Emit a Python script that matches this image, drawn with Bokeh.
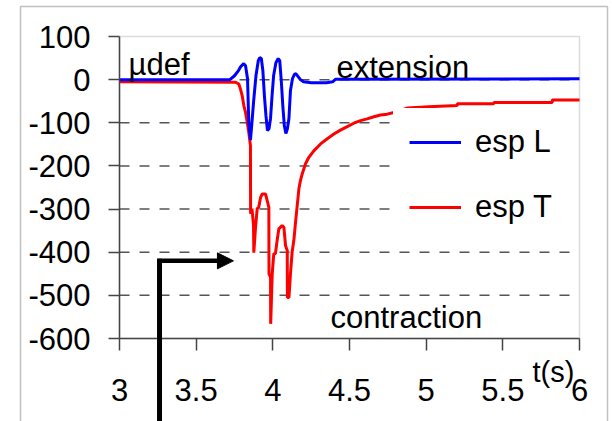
from bokeh.plotting import figure
from bokeh.models import (Range1d, FixedTicker, Legend, LegendItem, Label,
                          Arrow, NormalHead, BoxAnnotation, LinearAxis)
from bokeh.embed import file_html
from bokeh.resources import INLINE

# Longitudinal strain (esp L), microstrain vs time in seconds
t_L = [3.0, 3.72, 3.75, 3.776, 3.79, 3.81, 3.822, 3.835, 3.843, 3.854,
       3.862, 3.875, 3.89, 3.905, 3.915, 3.925, 3.935, 3.945, 3.955, 3.965,
       3.975, 3.985, 3.995, 4.005, 4.02, 4.035, 4.045, 4.055, 4.065, 4.075,
       4.085, 4.095, 4.105, 4.115, 4.128, 4.14, 4.15, 4.165, 4.18, 4.2,
       4.25, 4.35, 4.39, 4.41, 6.0]
esp_L = [0, 0, 9, 21, 30, 37, 32, 2, -99, -140,
         -107, -49, 9, 44, 51, 49, 21, -37, -83, -118,
         -114, -90, -37, 9, 39, 49, 44, -2, -60, -107,
         -125, -114, -90, -25, 2, 12, 14, 7, 0, -5,
         -7, -7, -5, 1, 2]

# Transverse strain (esp T)
t_T = [3.0, 3.757, 3.778, 3.789, 3.8, 3.811, 3.822, 3.833, 3.843, 3.854,
       3.855, 3.864, 3.874, 3.876, 3.887, 3.898, 3.908, 3.92, 3.931, 3.952,
       3.963, 3.974, 3.975, 3.985, 3.986, 3.996, 4.006, 4.017, 4.028, 4.039,
       4.061, 4.072, 4.083, 4.094, 4.095, 4.105, 4.115, 4.126, 4.137, 4.148,
       4.159, 4.17, 4.18, 4.192, 4.213, 4.235, 4.267, 4.311, 4.355, 4.398,
       4.441, 4.485, 4.528, 4.572, 4.615, 4.659, 4.702, 4.746, 4.789, 4.876,
       5.017, 5.202, 5.203, 5.441, 5.442, 5.822, 5.823, 6.0]
esp_T = [-5, -6, -10, -22, -37, -60, -76, -99, -122, -153,
         -311, -299, -338, -401, -343, -299, -296, -273, -265, -265,
         -280, -296, -450, -458, -566, -450, -404, -403, -373, -346,
         -338, -342, -385, -396, -505, -505, -450, -399, -373, -331,
         -292, -253, -234, -218, -195, -180, -165, -149, -137, -126,
         -117, -109, -101, -95, -91, -86, -82, -80, -76, -66,
         -63, -60, -56, -56, -53, -53, -47, -47]

x_ticks = [3.0, 3.5, 4.0, 4.5, 5.0, 5.5, 6.0]
x_tick_labels = ["3", "3.5", "4", "4.5", "5", "5.5", "6"]
y_ticks = [-600, -500, -400, -300, -200, -100, 0, 100]
y_tick_labels = ["-600", "-500", "-400", "-300", "-200", "-100", "0", "100"]
grid_ticks = [-500, -400, -300, -200, -100, 0]

FONT = "Liberation Sans"

# Page geometry: the frame fills the whole canvas, the plot area sits inside it
W, H = 612, 421
AREA_L, AREA_R, AREA_T, AREA_B = 119, 579, 36, 338
x0, x1 = x_ticks[0], x_ticks[-1]
y0, y1 = y_ticks[0], y_ticks[-1]
kx = (x1 - x0) / (AREA_R - AREA_L)
ky = (y1 - y0) / (AREA_B - AREA_T)
x_range = Range1d(x0 - AREA_L * kx, x1 + (W - AREA_R) * kx)
y_range = Range1d(y0 - (H - AREA_B) * ky, y1 + AREA_T * ky)

p = figure(width=W, height=H, output_backend="svg", toolbar_location=None,
           x_range=x_range, y_range=y_range, x_axis_type=None, y_axis_type=None,
           min_border=0)
p.background_fill_color = "white"
p.border_fill_color = "white"
p.outline_line_color = None
p.grid.visible = False

# plot-area border (under the axes)
p.add_layout(BoxAnnotation(left=x0, right=x1, bottom=y0, top=y1, level="underlay",
                           fill_alpha=0, line_color="#8c8c8c", line_width=1.5))

# axes pinned to the plot-area edges
xaxis = LinearAxis(fixed_location=y0, bounds=(x0, x1),
                   ticker=FixedTicker(ticks=x_ticks))
xaxis.major_label_overrides = {t: s for t, s in zip(x_ticks, x_tick_labels)}
xaxis.major_tick_out = 12
xaxis.major_label_standoff = 28
yaxis = LinearAxis(fixed_location=x0, bounds=(y0, y1),
                   ticker=FixedTicker(ticks=y_ticks))
yaxis.major_label_overrides = {t: s for t, s in zip(y_ticks, y_tick_labels)}
yaxis.major_tick_out = 11
yaxis.major_label_standoff = 18
for ax in (xaxis, yaxis):
    ax.axis_line_color = "#444444"
    ax.axis_line_width = 1.5
    ax.major_tick_line_color = "#444444"
    ax.major_tick_line_width = 1.5
    ax.major_tick_in = 0
    ax.minor_tick_line_color = None
    ax.major_label_text_font = FONT
    ax.major_label_text_font_size = "31px"
    ax.major_label_text_color = "black"
p.add_layout(xaxis, "below")
p.add_layout(yaxis, "left")

# dashed horizontal gridlines across the plot area
p.segment(x0=[x0] * len(grid_ticks), x1=[x1] * len(grid_ticks),
          y0=grid_ticks, y1=grid_ticks, line_color="#555555",
          line_width=1.5, line_dash="10 10")

# strain traces
rT = p.line(t_T, esp_T, line_color="#ff0000", line_width=3)
rL = p.line(t_L, esp_L, line_color="#0000ff", line_width=3)

legend = Legend(items=[LegendItem(label="esp L", renderers=[rL]),
                       LegendItem(label="esp T", renderers=[rT])],
                location=(393, 180), orientation="vertical",
                padding=16, spacing=29, glyph_width=52, glyph_height=36,
                label_height=36, label_width=85, label_standoff=14,
                label_text_font=FONT, label_text_font_size="31px",
                label_text_color="black",
                background_fill_color="white", background_fill_alpha=1.0,
                border_line_color="white", border_line_alpha=0.0)
p.add_layout(legend)

# annotations
for txt, x, y, size in [("µdef", 3.059, 34, "31px"),
                        ("extension", 4.415, 27, "31px"),
                        ("contraction", 4.376, -551, "31px"),
                        ("t(s)", 5.693, -677, "29px")]:
    p.add_layout(Label(x=x, y=y, text=txt, text_font=FONT, text_font_size=size,
                       text_color="black", text_align="left",
                       text_baseline="alphabetic"))

# pointer arrow
p.add_layout(Arrow(end=None, x_start=3.261, y_start=-830, x_end=3.261, y_end=-415,
                   line_color="black", line_width=5))
p.add_layout(Arrow(end=NormalHead(size=16, fill_color="black", line_color="black"),
                   x_start=3.246, y_start=-420, x_end=3.743, y_end=-420,
                   line_color="black", line_width=4.5))

# outer chart border
p.add_layout(BoxAnnotation(left=20, right=607, top=6, bottom=440,
                           left_units="canvas", right_units="canvas",
                           top_units="canvas", bottom_units="canvas",
                           fill_alpha=0, line_color="#333333", line_width=1.5))

open("out.html", "w").write(file_html(p, INLINE))
